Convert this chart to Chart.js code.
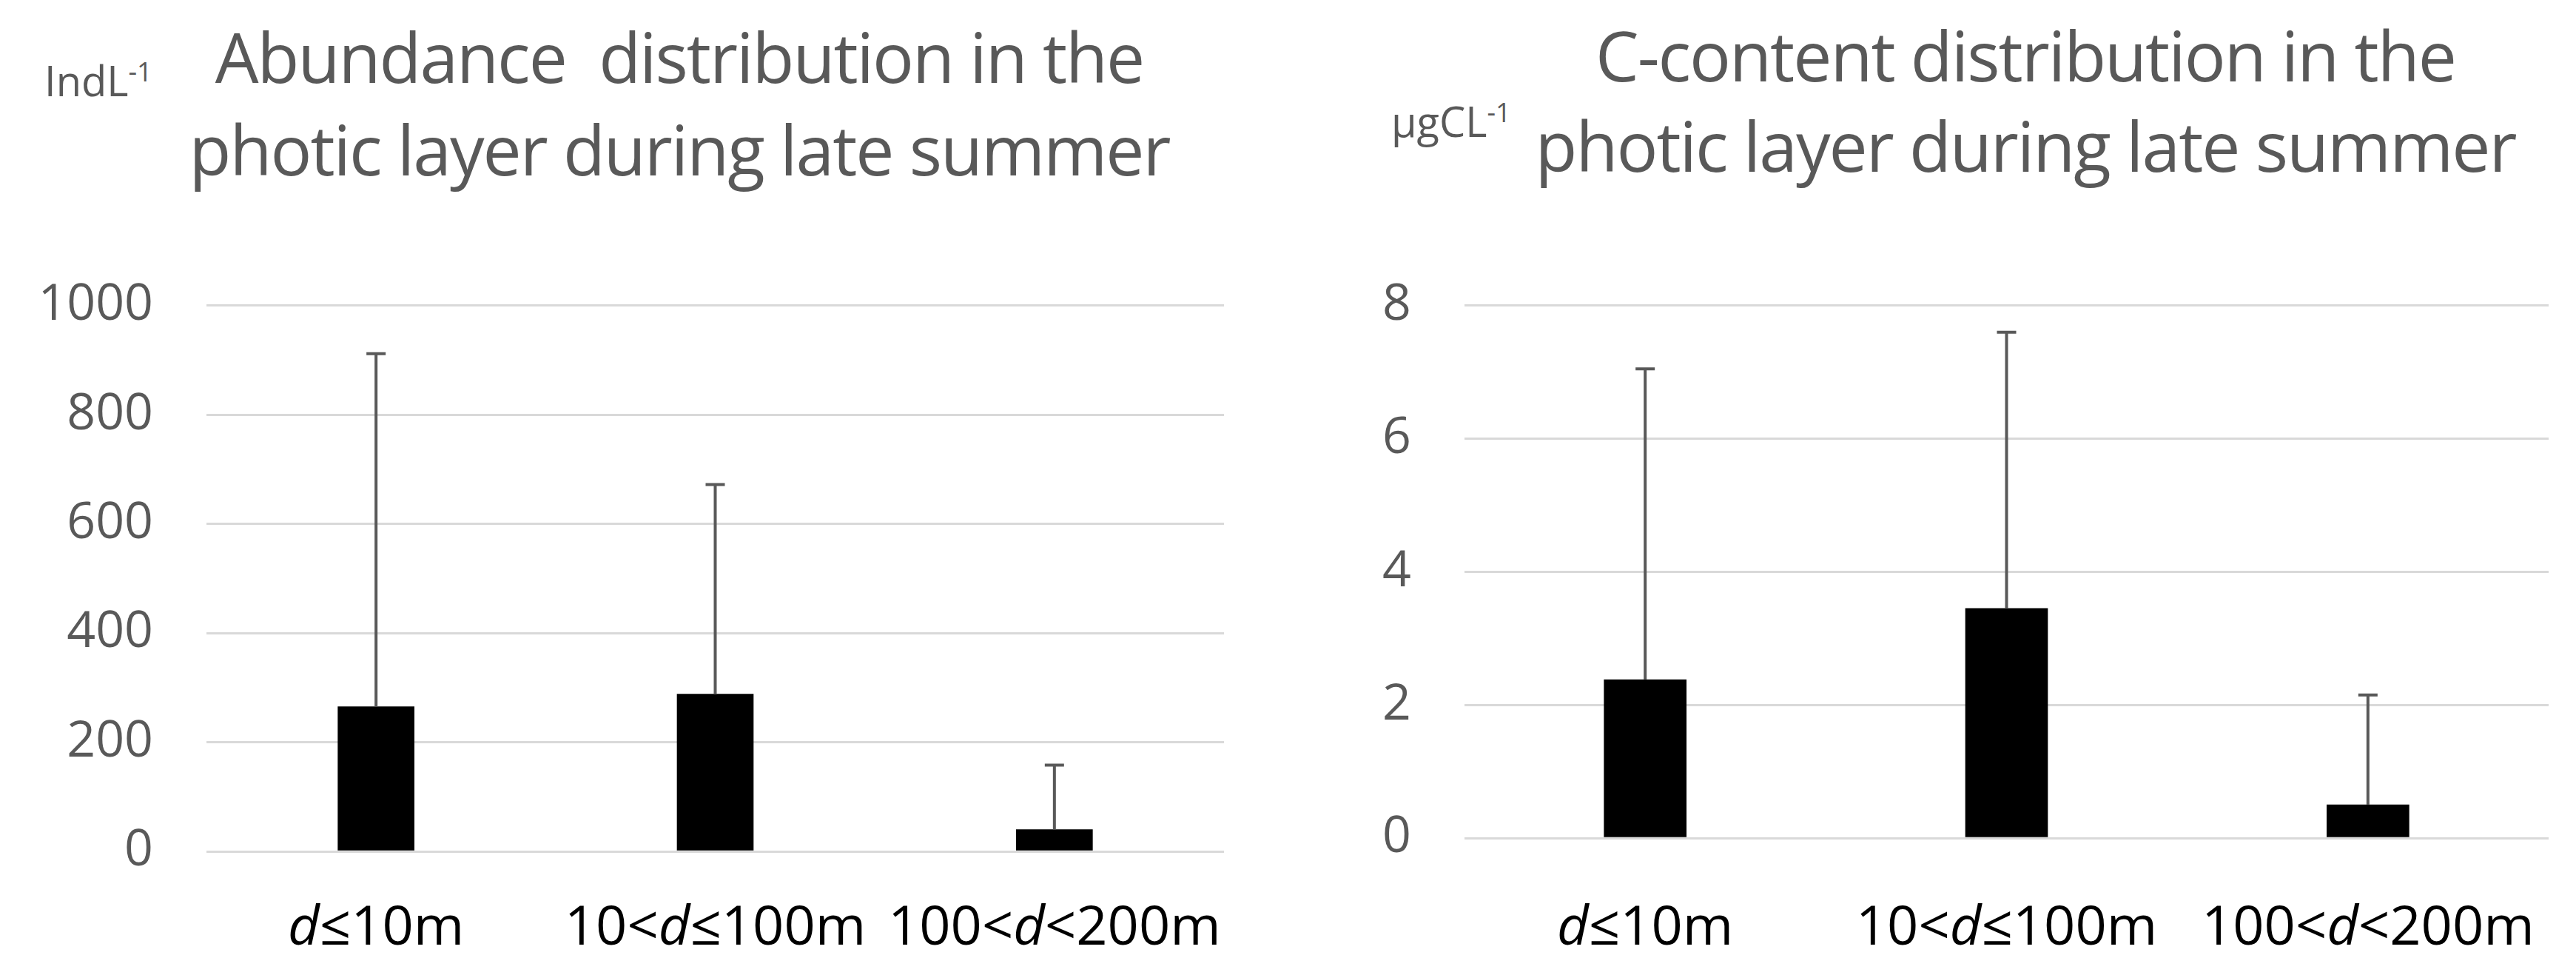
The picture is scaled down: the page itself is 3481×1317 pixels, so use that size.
<!DOCTYPE html>
<html><head><meta charset="utf-8">
<script src="https://cdn.jsdelivr.net/npm/chart.js@4"></script>
<style>
body{margin:0;width:3481px;height:1317px;background:#fff;position:relative;overflow:hidden;font-family:"Open Sans","Noto Sans",sans-serif;}
canvas{position:absolute;}
.t{position:absolute;color:#595959;font-size:93px;text-align:center;white-space:nowrap;line-height:1;transform:translateX(-50%);letter-spacing:-2px}
.u{position:absolute;color:#595959;font-size:56px;white-space:nowrap}
sup{font-size:36px}
</style></head><body>
<div class="t" style="left:918px;top:30px">Abundance&nbsp; distribution in the</div>
<div class="t" style="left:918px;top:155px">photic layer during late summer</div>
<div class="u" style="left:60px;top:70px">IndL<sup>-1</sup></div>
<div class="t" style="left:2737px;top:28px">C-content distribution in the</div>
<div class="t" style="left:2737px;top:150px">photic layer during late summer</div>
<div class="u" style="left:1880px;top:125px">μgCL<sup>-1</sup></div>
<canvas id="c1" style="left:0;top:300px;width:1700px;height:1000px" width="1700" height="1000"></canvas>
<canvas id="c2" style="left:1700px;top:300px;width:1781px;height:1000px" width="1781" height="1000"></canvas>
<script>
const categories = [["","d","≤10m"],["10<","d","≤100m"],["100<","d","<200m"]];
const abundance = [265, 288, 40];
const abundanceErrTop = [912, 672, 158];
const abundanceTicks = [0,200,400,600,800,1000];
const carbon = [2.38, 3.45, 0.5];
const carbonErrTop = [7.05, 7.6, 2.15];
const carbonTicks = [0,2,4,6,8];

const labelPlugin = {
  id:'xl',
  afterDraw(chart){
    const ctx=chart.ctx, xs=chart.scales.x;
    const y=955;
    ctx.save();ctx.fillStyle='#000';ctx.textBaseline='middle';
    categories.forEach((parts,i)=>{
      const fonts=['74px "Open Sans"','italic 74px "Open Sans"','74px "Open Sans"'];
      let w=0; parts.forEach((p,j)=>{ctx.font=fonts[j];w+=ctx.measureText(p).width;});
      let x=xs.getPixelForValue(i)-w/2;
      parts.forEach((p,j)=>{ctx.font=fonts[j];ctx.fillText(p,x,y);x+=ctx.measureText(p).width;});
    });
    ctx.restore();
  }
};
const errPlugin = {
  id:'err',
  afterDatasetsDraw(chart,args,opts){
    const ctx=chart.ctx, xs=chart.scales.x, ys=chart.scales.y;
    ctx.save();ctx.strokeStyle='#595959';ctx.lineWidth=4;
    opts.top.forEach((t,i)=>{
      const x=xs.getPixelForValue(i);
      const y0=ys.getPixelForValue(opts.vals[i]), y1=ys.getPixelForValue(t);
      ctx.beginPath();ctx.moveTo(x,y0);ctx.lineTo(x,y1);ctx.moveTo(x-13,y1);ctx.lineTo(x+13,y1);ctx.stroke();
    });
    ctx.restore();
  }
};
function make(id,vals,tops,ticks,max,thick,padR,padT,xh){
  new Chart(document.getElementById(id),{
    type:'bar',
    data:{labels:categories.map(c=>c.join('')),datasets:[{data:vals,backgroundColor:'#000',barThickness:thick}]},
    options:{responsive:false,animation:false,devicePixelRatio:1,
      layout:{padding:{right:padR,top:padT}},
      plugins:{legend:{display:false},tooltip:{enabled:false},err:{vals:vals,top:tops}},
      scales:{
        x:{grid:{display:false},border:{display:false},ticks:{display:false},afterFit(s){s.height=xh;}},
        y:{min:0,max:max,afterBuildTicks(s){s.ticks=ticks.map(v=>({value:v}));},
           grid:{color:'#d9d9d9',lineWidth:3,drawTicks:false},border:{display:false},
           ticks:{color:'#595959',font:{size:68,family:'"Open Sans"'},padding:72,callback:v=>String(v)},
           afterFit(s){s.width=279;}}
      }},
    plugins:[errPlugin,labelPlugin]
  });
}
make('c1',abundance,abundanceErrTop,abundanceTicks,1000,103,46,23,150);
make('c2',carbon,carbonErrTop,carbonTicks,8,111,37,43,168);
</script></body></html>
